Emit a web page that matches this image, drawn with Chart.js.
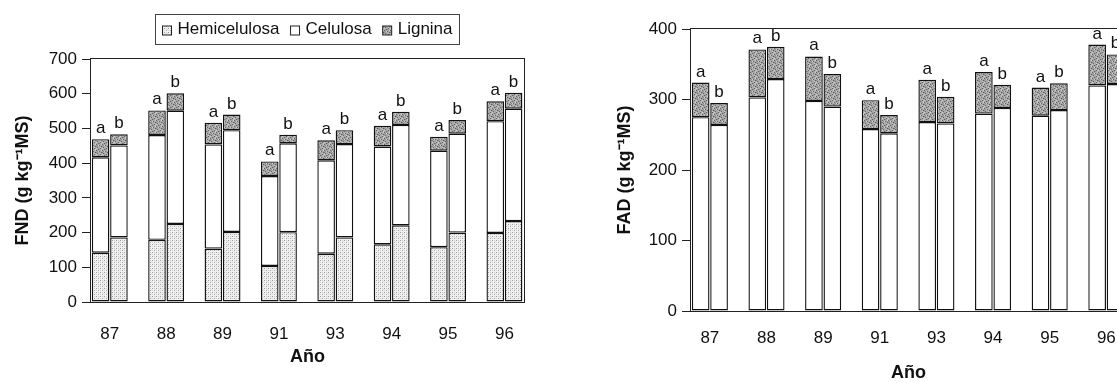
<!DOCTYPE html>
<html>
<head>
<meta charset="utf-8">
<script src="https://cdn.jsdelivr.net/npm/chart.js@4/dist/chart.umd.min.js"></script>
<style>
  html, body { margin: 0; padding: 0; background: #fff; }
  #wrap { position: relative; width: 1117px; height: 383px; overflow: hidden; }
  #fnd { position: absolute; left: 0; top: 0; }
  #fad { position: absolute; left: 600px; top: 0; }
</style>
</head>
<body>
<div id="wrap">
  <canvas id="fnd" width="600" height="383"></canvas>
  <canvas id="fad" width="600" height="383"></canvas>
</div>
<script>
// Years sampled
const years = ['87', '88', '89', '91', '93', '94', '95', '96'];

// FND fractions (g kg-1 MS), treatments a and b
const hemiA = [142, 179, 154, 104, 139, 166, 158, 199];
const hemiB = [186, 225, 202, 201, 186, 221, 200, 233];
const celA  = [275, 302, 300, 259, 269, 282, 278, 322];
const celB  = [265, 326, 293, 256, 269, 289, 285, 324];
const ligA  = [52, 71, 62, 42, 58, 60, 40, 57];
const ligB  = [32, 50, 45, 25, 40, 38, 39, 46];

// FAD fractions (g kg-1 MS), treatments a and b
const fadCelA = [275, 303, 298, 258, 268, 280, 277, 320];
const fadCelB = [264, 329, 290, 252, 266, 288, 285, 322];
const fadLigA = [49, 68, 63, 41, 60, 59, 40, 58];
const fadLigB = [31, 46, 46, 26, 38, 33, 38, 42];

// Value axis ticks
const fndTicks = [0, 100, 200, 300, 400, 500, 600, 700];
const fadTicks = [0, 100, 200, 300, 400];

const FONT = "'Liberation Sans', Arial, Helvetica, sans-serif";
Chart.defaults.font.family = FONT;
Chart.defaults.font.size = 17;
Chart.defaults.color = '#111';

// Stippled fills for the printed-look segments
function stipple(size, bg, dots) {
  const c = document.createElement('canvas');
  c.width = size; c.height = size;
  const g = c.getContext('2d');
  g.fillStyle = bg; g.fillRect(0, 0, size, size);
  dots.forEach(([x, y, col]) => { g.fillStyle = col; g.fillRect(x, y, 1, 1); });
  return g.createPattern(c, 'repeat');
}
const hemiFill = stipple(4, '#f1f1f1', [
  [0, 0, '#9a9a9a'], [2, 2, '#a4a4a4'], [2, 0, '#cfcfcf'], [0, 2, '#d6d6d6'], [3, 1, '#e0e0e0']
]);
const ligFill = stipple(6, '#a9a9a9', [
  [0, 0, '#5e5e5e'], [3, 1, '#626262'], [5, 2, '#5a5a5a'], [1, 3, '#666666'], [4, 4, '#5e5e5e'],
  [2, 5, '#626262'], [2, 1, '#d2d2d2'], [5, 0, '#cccccc'], [0, 4, '#d0d0d0'], [4, 3, '#c8c8c8'],
  [1, 1, '#8c8c8c'], [3, 5, '#909090'], [5, 5, '#c4c4c4'], [0, 2, '#888888']
]);
const celFill = '#ffffff';

const asPoints = vals => vals.map((v, i) => ({ x: i, y: v }));

function seg(label, vals, fill, stack) {
  return {
    label, stack, data: asPoints(vals),
    backgroundColor: fill, borderColor: '#111', borderWidth: 1.4, borderSkipped: false
  };
}

// Box around the plotting area
const frame = {
  id: 'frame',
  afterDatasetsDraw(chart) {
    const { ctx, chartArea: a } = chart;
    ctx.save();
    ctx.strokeStyle = '#222'; ctx.lineWidth = 1;
    ctx.strokeRect(Math.round(a.left) - 0.5, Math.round(a.top) - 0.5,
                   Math.round(a.right - a.left) + 1, Math.round(a.bottom - a.top) + 1);
    ctx.restore();
  }
};

// Treatment letter above each stacked column
const letters = {
  id: 'letters',
  afterDatasetsDraw(chart) {
    const { ctx } = chart;
    const tops = {};
    chart.data.datasets.forEach((d, i) => { tops[d.stack] = i; });
    ctx.save();
    ctx.font = '17px ' + FONT;
    ctx.fillStyle = '#111';
    ctx.textAlign = 'center';
    ctx.textBaseline = 'alphabetic';
    Object.keys(tops).forEach(stack => {
      chart.getDatasetMeta(tops[stack]).data.forEach(el => {
        ctx.fillText(stack, el.x, el.y - 6);
      });
    });
    ctx.restore();
  }
};

// Framed legend with one entry per fraction
const legendBox = {
  id: 'legendBox',
  afterDraw(chart) {
    const { ctx, chartArea: a } = chart;
    const items = chart.data.datasets.filter(d => d.stack === 'a');
    const sq = 9, gapText = 6, gapItem = 11, pad = 7, top = 14.5, h = 30;
    ctx.save();
    ctx.font = '17px ' + FONT;
    let w = pad * 2;
    items.forEach((d, i) => { w += sq + gapText + ctx.measureText(d.label).width + (i ? gapItem : 0); });
    const x0 = Math.round((a.left + a.right) / 2 - w / 2) + 0.5;
    ctx.strokeStyle = '#444'; ctx.lineWidth = 1;
    ctx.strokeRect(x0, top, Math.round(w), h);
    const midY = top + h / 2;
    let cur = x0 + pad;
    items.forEach((d, i) => {
      if (i) cur += gapItem;
      ctx.fillStyle = d.backgroundColor;
      ctx.fillRect(cur, midY - sq / 2 + 1, sq, sq);
      ctx.strokeStyle = '#222';
      ctx.strokeRect(cur, midY - sq / 2 + 1, sq, sq);
      cur += sq + gapText;
      ctx.fillStyle = '#111';
      ctx.textBaseline = 'middle';
      ctx.textAlign = 'left';
      ctx.fillText(d.label, cur, midY);
      cur += ctx.measureText(d.label).width;
    });
    ctx.restore();
  }
};

function buildChart(id, datasets, ticks, yTitle, geo, extra) {
  return new Chart(document.getElementById(id), {
    type: 'bar',
    data: { datasets },
    options: {
      responsive: false,
      animation: false,
      devicePixelRatio: 1,
      layout: { padding: { top: geo.top, right: geo.right, left: 0, bottom: 0 } },
      datasets: { bar: { categoryPercentage: 0.65, barPercentage: 0.96 } },
      plugins: { legend: { display: false }, tooltip: { enabled: false } },
      scales: {
        x: {
          type: 'linear', stacked: true, offset: false,
          min: -0.333, max: 7.347,
          grid: { display: false, offset: false },
          border: { display: false },
          ticks: {
            stepSize: 1, autoSkip: false, includeBounds: false, maxRotation: 0,
            padding: geo.xPad, color: '#111', font: { size: 17 },
            callback: v => years[v] ?? ''
          },
          title: {
            display: true, text: 'Año', color: '#111',
            font: { size: 18, weight: 'bold' },
            padding: { top: 0, bottom: geo.titleBottom }
          },
          afterFit: s => { s.height = geo.xHeight; }
        },
        y: {
          stacked: true,
          min: ticks[0], max: ticks[ticks.length - 1],
          ticks: { stepSize: ticks[1] - ticks[0], padding: 5, color: '#111', font: { size: 17 } },
          grid: { drawOnChartArea: false, drawTicks: true, tickLength: 9, color: '#222' },
          border: { display: false },
          title: {
            display: true, text: yTitle, color: '#111',
            font: { size: 18, weight: 'bold' },
            padding: { top: geo.yTitlePad, bottom: 0 }
          },
          afterFit: s => { s.width = 91; }
        }
      }
    },
    plugins: [frame, letters].concat(extra || [])
  });
}

buildChart('fnd', [
  seg('Hemicelulosa', hemiA, hemiFill, 'a'),
  seg('Celulosa', celA, celFill, 'a'),
  seg('Lignina', ligA, ligFill, 'a'),
  seg('Hemicelulosa', hemiB, hemiFill, 'b'),
  seg('Celulosa', celB, celFill, 'b'),
  seg('Lignina', ligB, ligFill, 'b')
], fndTicks, 'FND (g kg⁻¹MS)',
  { top: 59, right: 76, xHeight: 81, xPad: 14, titleBottom: 15, yTitlePad: 12 }, [legendBox]);

buildChart('fad', [
  seg('Celulosa', fadCelA, celFill, 'a'),
  seg('Lignina', fadLigA, ligFill, 'a'),
  seg('Celulosa', fadCelB, celFill, 'b'),
  seg('Lignina', fadLigB, ligFill, 'b')
], fadTicks, 'FAD (g kg⁻¹MS)',
  { top: 29, right: 74, xHeight: 72, xPad: 9, titleBottom: -1, yTitlePad: 14 });
</script>
</body>
</html>
